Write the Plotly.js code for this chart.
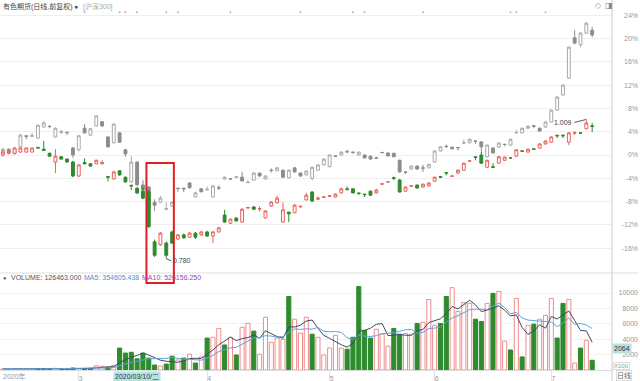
<!DOCTYPE html>
<html><head><meta charset="utf-8">
<script src="https://cdn.plot.ly/plotly-3.0.1.min.js"></script>
<style>html,body{margin:0;padding:0;background:#fff;} #chart{width:640px;height:381px;}</style>
</head><body><div id="chart"></div>
<script>
// ---- data ----
const dates = ["2020-02-12","2020-02-13","2020-02-14","2020-02-17","2020-02-18","2020-02-19","2020-02-20","2020-02-21","2020-02-24","2020-02-25","2020-02-26","2020-02-27","2020-02-28",
"2020-03-02","2020-03-03","2020-03-04","2020-03-05","2020-03-06","2020-03-09","2020-03-10","2020-03-11","2020-03-12","2020-03-13","2020-03-16","2020-03-17","2020-03-18","2020-03-19","2020-03-20","2020-03-23","2020-03-24","2020-03-25","2020-03-26","2020-03-27","2020-03-30","2020-03-31",
"2020-04-01","2020-04-02","2020-04-03","2020-04-07","2020-04-08","2020-04-09","2020-04-10","2020-04-13","2020-04-14","2020-04-15","2020-04-16","2020-04-17","2020-04-20","2020-04-21","2020-04-22","2020-04-23","2020-04-24","2020-04-27","2020-04-28","2020-04-29","2020-04-30",
"2020-05-06","2020-05-07","2020-05-08","2020-05-11","2020-05-12","2020-05-13","2020-05-14","2020-05-15","2020-05-18","2020-05-19","2020-05-20","2020-05-21","2020-05-22","2020-05-25","2020-05-26","2020-05-27","2020-05-28","2020-05-29",
"2020-06-01","2020-06-02","2020-06-03","2020-06-04","2020-06-05","2020-06-08","2020-06-09","2020-06-10","2020-06-11","2020-06-12","2020-06-15","2020-06-16","2020-06-17","2020-06-18","2020-06-19","2020-06-22","2020-06-23","2020-06-24","2020-06-29","2020-06-30",
"2020-07-01","2020-07-02","2020-07-03","2020-07-06","2020-07-07","2020-07-08","2020-07-09","2020-07-10"];

// 有色期货 (% change vs first day)
const mainOpen  = [0.0,0.3,0.3,0.5,0.5,0.5,1.3,1.0,0.3,-1.2,-0.3,-0.7,-1.2,-3.6,-1.3,-1.5,-1.5,-1.5,-3.7,-4.1,-2.7,-3.8,-5.2,-5.7,-6.2,-6.3,-14.9,-15.4,-15.1,-13.2,-14.4,-13.7,-14.1,-13.4,-13.7,-13.2,-13.9,-13.2,-10.3,-11.7,-10.8,-11.5,-9.1,-8.9,-9.25,-10.8,-8.75,-8.2,-11.5,-9.8,-9.9,-8.9,-7.7,-6.35,-7.6,-7.25,-7.1,-7.2,-6.5,-5.8,-5.8,-6.5,-6.7,-6.2,-6.5,-5.0,-4.6,-3.9,-4.3,-6.2,-5.35,-5.15,-5.5,-5.3,-4.5,-3.7,-3.0,-3.65,-3.1,-2.6,-1.05,-0.3,0.0,-2.1,-2.0,-1.4,-0.9,-0.5,-0.2,0.7,0.5,1.05,1.2,1.9,2.2,3.4,3.4,2.2,3.75,3.8,4.5,5.0];
const mainHigh  = [0.8,0.9,1.4,1.3,1.3,1.3,1.4,2.4,0.4,1.0,-0.2,-0.6,-1.0,-1.5,-0.6,-1.4,-0.8,-0.9,-3.7,-2.7,-2.6,-3.7,-5.1,-5.5,-5.5,-6.0,-14.5,-13.2,-14.8,-13.0,-13.5,-13.5,-13.2,-13.2,-13.0,-13.0,-13.0,-12.3,-9.4,-10.9,-10.7,-9.1,-8.9,-8.8,-8.8,-9.5,-7.9,-7.0,-8.1,-9.7,-8.4,-8.8,-6.5,-6.2,-7.1,-7.1,-6.9,-6.6,-5.6,-5.4,-5.7,-6.5,-6.7,-6.1,-5.8,-4.9,-4.5,-3.7,-4.1,-5.4,-5.2,-5.1,-4.9,-4.7,-3.7,-3.6,-3.0,-3.5,-2.5,-1.3,-0.9,-0.3,0.5,-0.8,-1.4,-0.2,-0.3,-0.4,1.0,0.8,1.1,1.1,2.0,2.5,3.2,3.4,3.5,3.9,4.1,3.9,6.1,5.5];
const mainLow   = [-0.3,0.1,0.2,0.4,0.4,0.5,1.1,0.7,-0.3,-3.1,-0.8,-1.3,-3.8,-3.8,-1.6,-2.0,-1.6,-1.6,-4.5,-4.2,-3.6,-4.8,-6.0,-6.7,-7.6,-12.5,-17.5,-15.6,-17.8,-15.3,-14.6,-14.4,-14.2,-14.4,-13.9,-14.0,-15.1,-13.3,-11.6,-11.8,-11.4,-11.6,-9.2,-9.4,-9.7,-10.9,-8.9,-8.3,-11.6,-11.5,-10.0,-9.0,-7.8,-8.0,-7.6,-7.3,-7.1,-7.3,-6.6,-6.1,-6.6,-6.9,-7.2,-7.0,-6.6,-5.05,-4.7,-4.3,-6.4,-6.3,-5.4,-5.7,-5.6,-5.4,-4.6,-3.9,-3.5,-3.7,-3.2,-2.7,-1.1,-0.9,-1.5,-2.2,-2.1,-1.5,-1.0,-0.6,-0.3,0.6,0.4,0.95,1.1,1.8,2.1,2.9,2.9,1.7,3.5,3.7,4.4,3.9];
const mainClose = [0.5,0.6,1.2,1.2,1.2,1.2,1.2,0.8,-0.2,-0.2,-0.7,-1.2,-3.6,-1.7,-1.5,-1.9,-0.9,-1.3,-3.8,-2.9,-3.4,-4.6,-5.3,-6.5,-7.4,-12.3,-17.2,-13.4,-17.2,-15.1,-13.7,-14.2,-13.4,-14.1,-13.2,-13.9,-13.2,-12.5,-11.5,-11.0,-11.3,-9.3,-9.0,-9.3,-9.2,-9.6,-8.06,-7.4,-9.4,-10.1,-8.6,-8.8,-6.9,-7.9,-7.4,-7.2,-7.0,-6.7,-5.8,-5.9,-6.5,-6.6,-6.8,-6.9,-6.0,-4.95,-4.6,-4.0,-6.35,-5.5,-5.3,-5.66,-5.0,-4.8,-3.8,-3.8,-3.1,-3.6,-2.6,-1.4,-1.0,-0.4,-1.4,-0.9,-2.1,-0.3,-0.35,-0.5,0.9,0.65,1.0,1.0,1.9,2.4,3.1,3.3,3.3,3.8,3.8,3.75,5.5,4.9];

// 沪深300 (% change vs first day)
const hsOpen  = [0.2,1.0,0.2,1.4,3.3,3.2,2.9,4.8,4.95,3.1,3.9,3.9,1.2,0.9,4.6,3.4,5.0,5.7,3.1,2.1,3.8,0.9,-4.6,-1.2,-5.15,-5.5,-8.1,-8.1,-9.3,-8.75,-5.7,-5.7,-4.8,-7.2,-5.8,-6.0,-7.2,-5.6,-4.1,-4.1,-3.8,-3.8,-4.75,-4.3,-3.1,-4.1,-2.6,-2.7,-2.6,-3.9,-2.2,-3.1,-3.4,-4.0,-2.6,-1.7,-2.0,-0.15,0.0,0.6,0.5,0.0,0.0,-0.2,-0.5,0.45,0.35,0.3,-0.9,-2.9,-2.4,-1.9,-2.2,-2.2,-1.2,0.7,1.5,1.35,1.3,2.05,2.1,2.4,2.25,-0.3,1.2,1.35,1.85,1.7,3.8,3.8,4.6,5.0,4.6,4.8,5.65,7.7,10.3,13.2,20.1,18.9,20.9,21.4];
const hsHigh  = [1.2,1.1,1.2,3.6,3.3,3.8,5.2,5.8,5.0,4.7,4.3,3.95,1.4,3.4,5.3,4.6,6.8,5.8,3.2,5.4,3.9,1.0,-0.2,-1.1,-4.3,-5.3,-7.6,-7.0,-8.1,-7.9,-5.6,-5.6,-4.7,-6.3,-5.7,-5.4,-5.2,-5.2,-3.7,-4.0,-3.7,-2.9,-4.3,-3.0,-3.0,-3.5,-2.3,-2.1,-2.5,-2.5,-2.1,-3.0,-2.7,-2.0,-1.6,-0.6,0.1,-0.1,0.6,0.9,0.5,0.6,0.1,-0.1,-0.3,0.5,0.4,0.35,-0.8,-2.9,-1.8,-1.8,-1.7,-1.5,0.8,1.5,1.8,1.4,1.35,2.6,2.8,2.45,2.3,1.8,1.3,2.1,1.9,2.8,4.3,4.7,5.05,5.05,4.7,5.8,7.8,10.1,12.1,18.6,21.4,21.1,22.8,22.0];
const hsLow   = [0.0,0.2,0.1,1.3,2.7,3.2,2.8,4.7,4.6,3.0,3.6,3.4,-0.5,0.6,3.7,3.3,4.9,4.8,1.3,2.0,2.1,-0.3,-4.8,-5.3,-6.1,-9.1,-9.6,-8.3,-9.4,-8.9,-6.3,-6.4,-5.8,-7.3,-6.4,-6.0,-7.3,-6.0,-4.2,-4.2,-3.85,-4.5,-4.8,-4.4,-3.7,-4.2,-3.0,-2.8,-3.9,-4.0,-3.0,-3.7,-3.5,-4.3,-2.7,-1.8,-2.1,-0.25,-0.1,0.3,0.2,-0.1,-0.6,-0.8,-0.7,0.35,-0.2,-0.4,-3.0,-3.3,-2.5,-2.5,-2.9,-2.3,-1.3,0.6,1.2,1.0,0.8,2.0,2.0,1.9,0.3,-0.4,0.3,1.3,1.5,1.6,3.75,3.7,4.5,4.6,4.0,4.7,5.6,7.6,10.2,13.1,19.0,18.5,20.8,20.2];
const hsClose = [1.0,0.35,1.0,3.4,3.2,3.3,5.1,5.5,4.9,4.6,4.0,3.85,0.0,3.3,3.8,4.5,6.7,5.0,1.4,5.3,2.2,0.2,-1.2,-5.1,-6.0,-8.9,-8.6,-7.4,-9.2,-8.1,-5.75,-5.8,-5.6,-6.5,-6.3,-5.9,-5.3,-5.65,-3.8,-4.1,-3.75,-4.45,-4.7,-3.1,-3.6,-3.6,-2.65,-2.2,-3.8,-2.6,-2.9,-3.6,-2.75,-2.1,-1.7,-0.7,0.0,-0.2,0.5,0.55,0.45,0.5,-0.5,-0.7,-0.55,0.4,-0.15,-0.3,-2.9,-2.95,-1.9,-2.4,-2.25,-1.6,0.7,1.4,1.45,1.05,1.25,2.1,2.7,2.35,1.4,1.7,0.35,2.05,1.8,2.7,3.85,4.6,4.95,4.95,4.1,5.65,7.7,9.95,12.0,18.5,19.2,20.9,22.6,20.6];

// 成交量 (x100)
const volume = [150,120,180,200,140,160,130,170,190,220,150,140,260,180,200,230,550,480,380,600,2850,2200,2300,1450,2200,1550,650,520,770,1800,1300,1550,2050,900,1700,4150,4250,5400,3250,4250,1950,5550,6050,5050,2050,6850,3600,4150,4000,9550,6600,4800,6850,4650,4250,1950,2850,4500,2850,2700,4250,10850,5150,4150,5300,4650,3100,5400,4650,4750,4650,6050,6200,9150,5800,6050,9550,10700,7600,8750,8650,6600,6300,8650,9950,10200,3750,2600,9300,1700,5800,5950,6600,7100,9300,4150,8650,9150,900,2850,3850,1265];

const monthTickDates = ["2020-03-02","2020-04-01","2020-05-06","2020-06-01","2020-07-01"];
const monthTickText  = ["3","4","5","6","7"];
const pctTicks = [-16,-12,-8,-4,0,4,8,12,16,20,24];
const volTicks = [2000,4000,6000,8000,10000];
const volTickText = ["2000","4000","6000","8000","10000"];
const eventDates = ["2020-03-03","2020-03-11","2020-03-12","2020-03-16","2020-03-23","2020-03-25","2020-04-08","2020-04-24","2020-05-12","2020-05-14","2020-05-28","2020-06-18","2020-06-19","2020-06-30"];
const lowLabel = "0.780", highLabel = "1.009";
const volLabel = "VOLUME: 126463.000", ma5Label = "MA5: 354605.438", ma10Label = "MA10: 526156.250";

// ---- derived ----
function movingAvg(arr, n){ return arr.map((v,i)=>{ const s=arr.slice(Math.max(0,i-n+1), i+1); return s.reduce((a,b)=>a+b,0)/s.length; }); }
const ma5 = movingAvg(volume,5), ma10 = movingAvg(volume,10);
const RED='#e8605a', GREEN='#2e8b2e', GRAY='#a8a8a8', GRAYF='#8c8c8c';
const volUp = mainClose.map((c,i)=> c>mainOpen[i] || (c===mainOpen[i] && (i===0 || c>=mainClose[i-1])));
const volFill = volUp.map(u=> u ? '#ffffff' : GREEN);
const volLine = volUp.map(u=> u ? '#f08c8c' : GREEN);

const W=638, H=370;
const px = p=>p/W, py = p=>(H-p)/H;
const mainRange = [-20.24, 26.59];
const FONT = 'Liberation Sans, Noto Sans CJK SC, sans-serif';
const lowIdx = mainLow.indexOf(Math.min(...mainLow));
const highIdx = mainHigh.indexOf(Math.max(...mainHigh));

const traces = [
 {type:'candlestick', x:dates, open:hsOpen, high:hsHigh, low:hsLow, close:hsClose, xaxis:'x', yaxis:'y',
  increasing:{line:{color:GRAY,width:1}, fillcolor:'#ffffff'}, decreasing:{line:{color:GRAYF,width:1}, fillcolor:GRAYF},
  whiskerwidth:0, hoverinfo:'skip', showlegend:false},
 {type:'candlestick', x:dates, open:mainOpen, high:mainHigh, low:mainLow, close:mainClose, xaxis:'x', yaxis:'y',
  increasing:{line:{color:RED,width:1}, fillcolor:'#ffffff'}, decreasing:{line:{color:GREEN,width:1}, fillcolor:GREEN},
  whiskerwidth:0, hoverinfo:'skip', showlegend:false},
 {type:'scatter', mode:'markers', x:eventDates, y:eventDates.map(()=>mainRange[1]-2.1), xaxis:'x', yaxis:'y',
  marker:{size:2, color:'#d39ad8'}, hoverinfo:'skip', showlegend:false},
 {type:'bar', x:dates, y:volume, xaxis:'x', yaxis:'y2', marker:{color:volFill, line:{color:volLine, width:1}}, hoverinfo:'skip', showlegend:false},
 {type:'scatter', mode:'lines', x:dates, y:ma5, xaxis:'x', yaxis:'y2', line:{color:'#3d4a63', width:1}, hoverinfo:'skip', showlegend:false},
 {type:'scatter', mode:'lines', x:dates, y:ma10, xaxis:'x', yaxis:'y2', line:{color:'#5aa5e0', width:1}, hoverinfo:'skip', showlegend:false}
];

const ann = [];
function txt(t, x, y, opts){ ann.push(Object.assign({text:t, xref:'paper', yref:'paper', x:px(x), y:py(y), showarrow:false, xanchor:'left', yanchor:'middle', font:{family:FONT, size:7, color:'#555'}}, opts||{})); }
txt('有色期货(日线,前复权)', 1, 6.5, {font:{family:FONT,size:7,color:'#444'}});
txt('●', 72, 6.5, {font:{family:FONT,size:7,color:'#555'}});
txt('[沪深300]', 81, 6.5, {font:{family:FONT,size:7,color:'#aaa'}});
txt('◇', 593, 6, {font:{family:'DejaVu Sans',size:8,color:'#999'}});
txt('◨', 603, 6, {font:{family:'DejaVu Sans',size:8,color:'#888'}});
txt('●', 1, 277.5, {font:{family:FONT,size:6,color:'#666'}});
txt(volLabel, 9, 277.5, {font:{family:FONT,size:7,color:'#555'}});
txt(ma5Label, 82, 277.5, {font:{family:FONT,size:7,color:'#4a8fd6'}});
txt(ma10Label, 140, 277.5, {font:{family:FONT,size:7,color:'#9a3fb8'}});
txt('2020年', 1, 376, {font:{family:FONT,size:7,color:'#999'}});
txt('2020/03/10/二', 113, 376, {bgcolor:'#b5e3e3', borderpad:1, font:{family:FONT,size:7,color:'#333'}});
txt('2064', 612, 348.5, {bgcolor:'#b5e3e3', borderpad:1, font:{family:FONT,size:7,color:'#333'}});
txt('X100', 613, 366, {bordercolor:'#ddd', borderwidth:1, borderpad:0, font:{family:FONT,size:6,color:'#999'}});
txt('日线', 616, 375.5, {bordercolor:'#ddd', borderwidth:1, borderpad:0, font:{family:FONT,size:7,color:'#666'}});
ann.push({x:dates[lowIdx], y:mainLow[lowIdx], xref:'x', yref:'y', text:lowLabel, showarrow:true, arrowhead:0, arrowwidth:1, arrowcolor:'#555', ax:5, ay:2, xanchor:'left', yanchor:'middle', font:{family:FONT,size:7,color:'#444'}});
ann.push({x:dates[highIdx], y:mainHigh[highIdx], xref:'x', yref:'y', text:highLabel, showarrow:true, arrowhead:0, arrowwidth:1, arrowcolor:'#555', ax:-12, ay:3, xanchor:'right', yanchor:'middle', font:{family:FONT,size:7,color:'#444'}});

const xEnd = 612/W;
const shapes = [
 {type:'line', xref:'paper', yref:'paper', x0:0, x1:1, y0:py(273), y1:py(273), line:{color:'#dddddd', width:1}},
 {type:'line', xref:'paper', yref:'paper', x0:xEnd, x1:xEnd, y0:py(381), y1:1, line:{color:'#cccccc', width:1}},
 {type:'rect', xref:'x', yref:'paper', x0:24.6, x1:29.3, y0:py(283), y1:py(163), line:{color:'#e02020', width:2}}
];

const layout = {
 width:640, height:381, margin:{l:0, r:2, t:0, b:11},
 paper_bgcolor:'#fff', plot_bgcolor:'#fff', showlegend:false, bargap:0.3, dragmode:false,
 font:{family:FONT, size:7, color:'#999'},
 xaxis:{type:'category', categoryarray:dates, range:[-0.5,104.4], domain:[0,xEnd], anchor:'y2',
   rangeslider:{visible:false}, showgrid:false, zeroline:false, showline:true, linecolor:'#dddddd',
   tickvals:monthTickDates, ticktext:monthTickText, ticks:'outside', ticklen:11, tickcolor:'#e4e4e4',
   ticklabelshift:2, ticklabelstandoff:-9, tickfont:{family:FONT,size:7,color:'#999'}, fixedrange:true},
 yaxis:{domain:[py(273),1], range:mainRange, anchor:'x', side:'right', showgrid:true, gridcolor:'#efefef',
   tickvals:pctTicks, showticklabels:false, zeroline:false, showline:false, fixedrange:true},
 yaxis3:{overlaying:'y', anchor:'free', position:1, side:'left', range:mainRange, tickvals:pctTicks,
   ticktext:pctTicks.map(v=>v+'%'), showgrid:false, zeroline:false, showline:false, ticks:'',
   tickfont:{family:FONT,size:7,color:'#999'}, fixedrange:true},
 yaxis2:{domain:[0,py(273)], range:[0,12600], anchor:'x', side:'right', showgrid:true, gridcolor:'#f3f3f3',
   tickvals:volTicks, showticklabels:false, zeroline:false, showline:false, fixedrange:true},
 yaxis4:{overlaying:'y2', anchor:'free', position:1, side:'left', range:[0,12600], tickvals:volTicks, ticktext:volTickText,
   showgrid:false, zeroline:false, showline:false, ticks:'', tickfont:{family:FONT,size:7,color:'#999'}, fixedrange:true},
 annotations:ann, shapes:shapes
};
traces.push({type:'scatter', x:[dates[0]], y:[null], xaxis:'x', yaxis:'y3', hoverinfo:'skip', showlegend:false});
traces.push({type:'scatter', x:[dates[0]], y:[null], xaxis:'x', yaxis:'y4', hoverinfo:'skip', showlegend:false});
Plotly.newPlot('chart', traces, layout, {staticPlot:true, displayModeBar:false});
</script></body></html>
